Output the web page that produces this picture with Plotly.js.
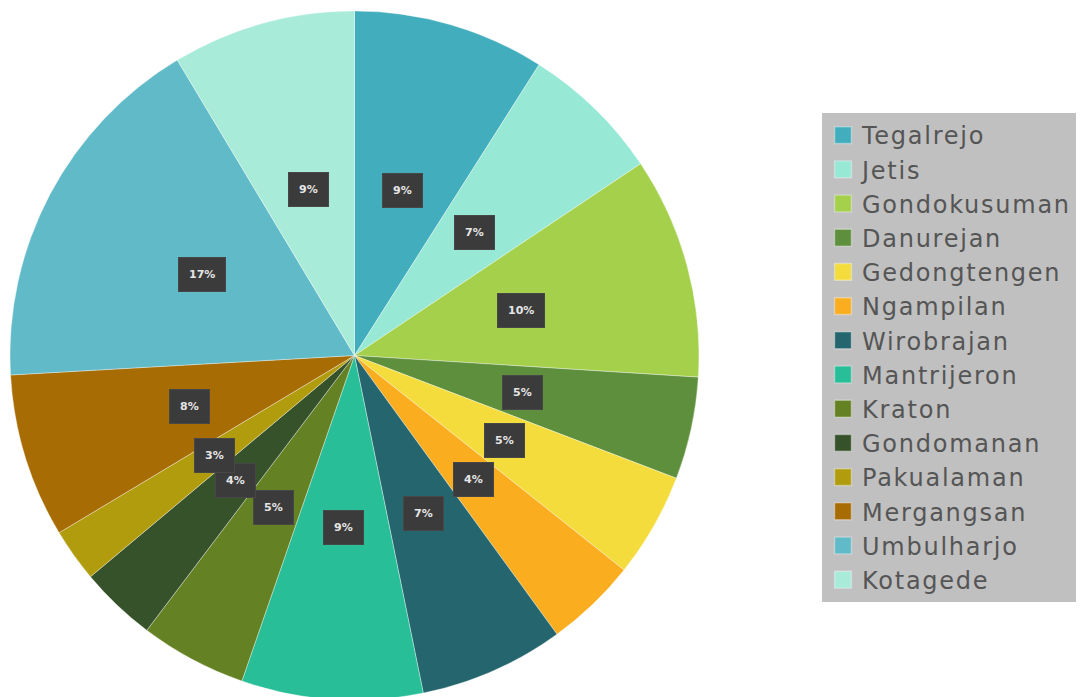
<!DOCTYPE html>
<html>
<head>
<meta charset="utf-8">
<script src="https://cdn.plot.ly/plotly-3.0.1.min.js"></script>
<style>
html, body { margin: 0; padding: 0; overflow: hidden; background: #fff; }
#chart { width: 1092px; height: 709px; }
.legendtext { letter-spacing: 1.75px; }
.legendpoints path { transform: translate(21px, 0px) scale(1.4); }
</style>
</head>
<body>
<div id="chart"></div>
<script>
const districts = ["Tegalrejo", "Jetis", "Gondokusuman", "Danurejan", "Gedongtengen", "Ngampilan", "Wirobrajan", "Mantrijeron", "Kraton", "Gondomanan", "Pakualaman", "Mergangsan", "Umbulharjo", "Kotagede"];
const shares = [9.0, 6.6, 10.4, 4.8, 4.9, 4.3, 6.8, 8.5, 5.0, 3.6, 2.5, 7.7, 17.3, 8.6];
const sliceColors = ["#41adbd", "#98e8d6", "#a4d04b", "#5e8f3d", "#f3dc3c", "#f9ad1f", "#25666e", "#27be98", "#648223", "#36522a", "#b09c0d", "#a86c04", "#61bac8", "#a8ebd9"];

const W = 1092, H = 709;
const mL = 0, mR = 0, mT = 11, mB = 9;
const plotW = W - mL - mR, plotH = H - mT - mB;
const domX = [10 / plotW, 699 / plotW];
const R = Math.min((domX[1] - domX[0]) * plotW, plotH) / 2;
const cx = (domX[0] + domX[1]) / 2;
const cy = 0.5;

const total = shares.reduce((a, b) => a + b, 0);
let cum = 0;
const annotations = shares.map((v, i) => {
  const mid = (cum + v / 2) / total * 2 * Math.PI;
  cum += v;
  const rr = 0.5 * R;
  return {
    xref: 'paper', yref: 'paper',
    x: cx + rr * Math.sin(mid) / plotW,
    y: cy + rr * Math.cos(mid) / plotH,
    text: '<b>' + Math.round(v / total * 100) + '%</b>',
    showarrow: false,
    font: { family: 'DejaVu Sans', size: 11, color: '#e6e6e6' },
    bgcolor: '#3b3b3b',
    bordercolor: '#474747',
    borderwidth: 1,
    borderpad: 10,
    xanchor: 'center', yanchor: 'middle'
  };
});

const data = [{
  type: 'pie',
  labels: districts,
  values: shares,
  sort: false,
  direction: 'clockwise',
  rotation: 0,
  textinfo: 'none',
  hoverinfo: 'label+percent',
  marker: { colors: sliceColors, line: { color: 'rgba(255,255,255,0.35)', width: 1 } },
  domain: { x: domX, y: [0, 1] }
}];

const layout = {
  width: W, height: H,
  margin: { l: mL, r: mR, t: mT, b: mB, pad: 0 },
  paper_bgcolor: '#ffffff',
  showlegend: true,
  legend: {
    x: 822 / plotW, xanchor: 'left',
    y: (H - mB - 113) / plotH, yanchor: 'top',
    bgcolor: '#c0c0c0',
    borderwidth: 0,
    entrywidth: 240,
    entrywidthmode: 'pixels',
    font: { family: 'DejaVu Sans', size: 24, color: '#555555' },
    traceorder: 'normal'
  },
  annotations: annotations
};

Plotly.newPlot('chart', data, layout, { displayModeBar: false, staticPlot: true });
</script>
</body>
</html>
